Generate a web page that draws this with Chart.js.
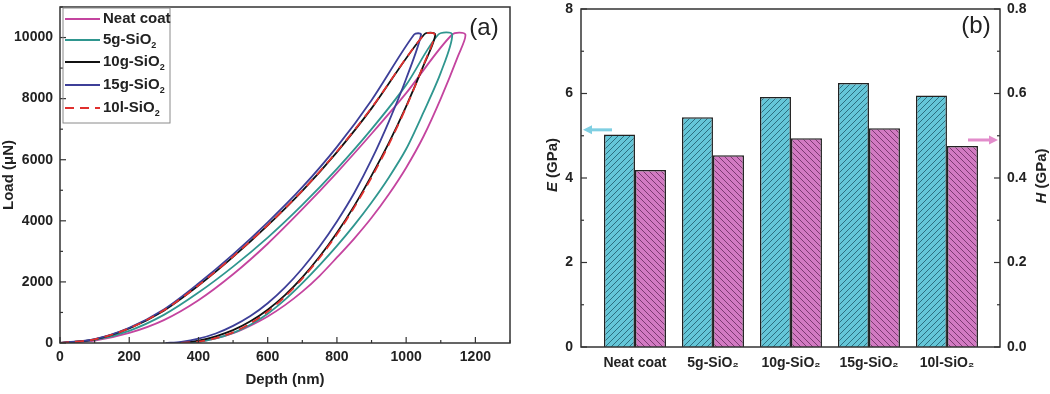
<!DOCTYPE html>
<html>
<head>
<meta charset="utf-8">
<script src="https://cdn.jsdelivr.net/npm/chart.js@4.4.0/dist/chart.umd.min.js"></script>
<style>
  body { margin: 0; background: #fff; }
  #wrap { position: relative; width: 1050px; height: 394px; }
  #chartA { position: absolute; left: 0; top: 0; }
  #chartB { position: absolute; left: 520px; top: 0; }
</style>
</head>
<body>
<div id="wrap">
  <canvas id="chartA" width="520" height="394"></canvas>
  <canvas id="chartB" width="530" height="394"></canvas>
</div>
<script>
// (a) load-depth curves: loading, hold at peak, unloading (nm, uN)
const neatDepth = [0, 100, 200, 300, 400, 500, 600, 700, 800, 900, 1000, 1133, 1171, 1150, 1100, 1050, 1000, 950, 900, 850, 800, 750, 700, 650, 600, 550, 500, 450, 400, 375];
const neatLoad  = [0, 80, 330, 750, 1400, 2250, 3250, 4380, 5580, 6850, 8180, 10100, 10100, 9400, 8000, 6760, 5740, 4870, 4100, 3420, 2800, 2200, 1680, 1240, 870, 570, 320, 150, 40, 0];

const g5Depth = [0, 100, 200, 300, 400, 500, 600, 700, 800, 900, 1000, 1093, 1133, 1100, 1050, 1000, 950, 900, 850, 800, 750, 700, 650, 600, 550, 500, 450, 400, 350];
const g5Load  = [0, 100, 400, 920, 1650, 2500, 3450, 4520, 5700, 7000, 8450, 10100, 10100, 8850, 7550, 6350, 5420, 4600, 3860, 3180, 2550, 1960, 1420, 960, 600, 330, 150, 40, 0];

const g10Depth = [0, 100, 200, 300, 400, 500, 600, 700, 800, 900, 1052, 1084, 1050, 1000, 950, 900, 850, 800, 750, 700, 650, 600, 550, 500, 450, 400, 350, 320];
const g10Load  = [0, 120, 480, 1060, 1880, 2820, 3850, 4980, 6250, 7680, 10100, 10100, 9080, 7750, 6550, 5480, 4490, 3610, 2830, 2150, 1570, 1090, 710, 420, 220, 80, 15, 0];

const g15Depth = [0, 100, 200, 300, 400, 500, 600, 700, 800, 900, 1023, 1043, 1000, 950, 900, 850, 800, 750, 700, 650, 600, 550, 500, 450, 400, 350, 305];
const g15Load  = [0, 130, 500, 1100, 1950, 2900, 3950, 5100, 6420, 7950, 10100, 10100, 8650, 7250, 6000, 4910, 3980, 3160, 2440, 1820, 1300, 880, 560, 310, 140, 40, 0];

const l10Depth = [0, 100, 200, 300, 400, 500, 600, 700, 800, 900, 1052, 1082, 1050, 1000, 950, 900, 850, 800, 750, 700, 650, 600, 550, 500, 450, 400, 340];
const l10Load  = [0, 120, 480, 1070, 1890, 2830, 3860, 4990, 6270, 7700, 10100, 10100, 9100, 7720, 6500, 5420, 4440, 3560, 2790, 2110, 1520, 1030, 640, 350, 160, 45, 0];

const depthTicks = [0, 200, 400, 600, 800, 1000, 1200];
const loadTicks = [0, 2000, 4000, 6000, 8000, 10000];

// (b) modulus and hardness
const catLabels = ['Neat coat', '5g-SiO₂', '10g-SiO₂', '15g-SiO₂', '10l-SiO₂'];
const eValues = [5.03, 5.44, 5.92, 6.25, 5.95];
const hValues = [0.419, 0.454, 0.494, 0.518, 0.476];
const eTicks = [0, 2, 4, 6, 8];
const hTicks = [0, 0.2, 0.4, 0.6, 0.8];

const FONT = "'Liberation Sans', Arial, sans-serif";
const INK = '#222';
Chart.defaults.font.family = FONT;
Chart.defaults.color = INK;

const seriesA = [
  { label: 'Neat coat', depth: neatDepth, load: neatLoad, color: '#c4449f', dash: [], order: 5 },
  { label: '5g-SiO₂', depth: g5Depth, load: g5Load, color: '#2f968f', dash: [], order: 4 },
  { label: '10g-SiO₂', depth: g10Depth, load: g10Load, color: '#111111', dash: [], order: 3 },
  { label: '15g-SiO₂', depth: g15Depth, load: g15Load, color: '#3d3f98', dash: [], order: 2 },
  { label: '10l-SiO₂', depth: l10Depth, load: l10Load, color: '#e0302e', dash: [9, 6], order: 1 }
];

// text with a lowered small "2" for SiO2
function subText(ctx, text, x, y, size) {
  const parts = text.split('₂');
  ctx.font = 'bold ' + size + 'px ' + FONT;
  ctx.fillText(parts[0], x, y);
  if (parts.length > 1) {
    const w = ctx.measureText(parts[0]).width;
    ctx.font = 'bold ' + Math.round(size * 0.6) + 'px ' + FONT;
    ctx.fillText('2', x + w, y + size * 0.35);
  }
}

function drawTicks(ctx, scale, step, majorEvery, side, area) {
  const n = Math.round((scale.max - scale.min) / step);
  for (let i = 0; i <= n; i++) {
    const v = scale.min + i * step;
    const len = (i % majorEvery === 0) ? 6 : 3;
    const p = scale.getPixelForValue(v);
    ctx.beginPath();
    if (side === 'bottom') { ctx.moveTo(p, area.bottom); ctx.lineTo(p, area.bottom - len); }
    if (side === 'left') { ctx.moveTo(area.left, p); ctx.lineTo(area.left + len, p); }
    if (side === 'right') { ctx.moveTo(area.right, p); ctx.lineTo(area.right - len, p); }
    ctx.stroke();
  }
}

// keep the plot box where the figure has it
function fixWidth(w) {
  return s => { s.width = w; s.paddingTop = 0; s.paddingBottom = 0; };
}
function fixHeight(h) {
  return s => { s.height = h; s.paddingLeft = 0; s.paddingRight = 0; };
}

const decorA = {
  id: 'decorA',
  afterDraw(chart) {
    const ctx = chart.ctx, a = chart.chartArea;
    ctx.save();
    ctx.strokeStyle = '#333';
    ctx.lineWidth = 1.5;
    ctx.strokeRect(a.left, a.top, a.right - a.left, a.bottom - a.top);
    ctx.lineWidth = 1.2;
    drawTicks(ctx, chart.scales.x, 100, 2, 'bottom', a);
    drawTicks(ctx, chart.scales.y, 1000, 2, 'left', a);

    // legend box
    ctx.strokeStyle = '#8a8a8a';
    ctx.lineWidth = 1;
    ctx.strokeRect(a.left + 3, a.top + 1, 107, 115);
    const rows = [19, 40, 62, 85, 108];
    seriesA.forEach((s, i) => {
      ctx.strokeStyle = s.color;
      ctx.lineWidth = 2;
      ctx.setLineDash(s.dash);
      ctx.beginPath();
      ctx.moveTo(a.left + 5, rows[i]);
      ctx.lineTo(a.left + 40, rows[i]);
      ctx.stroke();
      ctx.setLineDash([]);
      ctx.fillStyle = INK;
      ctx.textAlign = 'left';
      ctx.textBaseline = 'middle';
      subText(ctx, s.label, a.left + 43, rows[i], 15);
    });

    ctx.fillStyle = INK;
    ctx.font = '24px ' + FONT;
    ctx.textAlign = 'center';
    ctx.textBaseline = 'middle';
    ctx.fillText('(a)', 484, 28);
    ctx.restore();
  }
};

new Chart(document.getElementById('chartA'), {
  type: 'scatter',
  data: {
    datasets: seriesA.map(s => ({
      label: s.label,
      data: s.depth.map((d, k) => ({ x: d, y: s.load[k] })),
      showLine: true,
      borderColor: s.color,
      borderWidth: 1.8,
      borderDash: s.dash,
      pointRadius: 0,
      tension: 0.3,
      fill: false,
      order: s.order
    }))
  },
  options: {
    responsive: false,
    animation: false,
    devicePixelRatio: 1,
    layout: { padding: { top: 7, right: 10, left: 0, bottom: 0 } },
    plugins: { legend: { display: false }, tooltip: { enabled: false } },
    scales: {
      x: {
        type: 'linear', min: 0, max: 1300,
        afterBuildTicks: s => { s.ticks = depthTicks.map(v => ({ value: v })); },
        ticks: { callback: v => String(v), padding: 6, maxRotation: 0, autoSkip: false, font: { size: 14, weight: 'bold' } },
        grid: { display: false, drawTicks: false },
        border: { display: false },
        title: { display: true, text: 'Depth (nm)', font: { size: 15, weight: 'bold' }, padding: { top: 2, bottom: 5 } },
        afterFit: fixHeight(51)
      },
      y: {
        type: 'linear', min: 0, max: 11000,
        afterBuildTicks: s => { s.ticks = loadTicks.map(v => ({ value: v })); },
        ticks: { callback: v => String(v), padding: 7, autoSkip: false, font: { size: 14, weight: 'bold' } },
        grid: { display: false, drawTicks: false },
        border: { display: false },
        title: { display: true, text: 'Load (μN)', font: { size: 15, weight: 'bold' }, padding: 0 },
        afterFit: fixWidth(60)
      }
    }
  },
  plugins: [decorA]
});

// hatch fills for the bars
function hatch(bg, fg, forward) {
  const c = document.createElement('canvas');
  c.width = 6; c.height = 6;
  const g = c.getContext('2d');
  g.fillStyle = bg;
  g.fillRect(0, 0, 6, 6);
  g.strokeStyle = fg;
  g.lineWidth = 1;
  g.beginPath();
  if (forward) {
    g.moveTo(-1, 7); g.lineTo(7, -1);
    g.moveTo(-1, 1); g.lineTo(1, -1);
    g.moveTo(5, 7); g.lineTo(7, 5);
  } else {
    g.moveTo(-1, -1); g.lineTo(7, 7);
    g.moveTo(-1, 5); g.lineTo(1, 7);
    g.moveTo(5, -1); g.lineTo(7, 1);
  }
  g.stroke();
  return g.createPattern(c, 'repeat');
}

function vText(ctx, x, y, parts, size) {
  ctx.save();
  ctx.translate(x, y);
  ctx.rotate(-Math.PI / 2);
  ctx.textBaseline = 'middle';
  ctx.textAlign = 'left';
  let total = 0;
  parts.forEach(p => {
    ctx.font = (p.italic ? 'italic ' : '') + 'bold ' + size + 'px ' + FONT;
    p.w = ctx.measureText(p.text).width;
    total += p.w;
  });
  let cx = -total / 2;
  parts.forEach(p => {
    ctx.font = (p.italic ? 'italic ' : '') + 'bold ' + size + 'px ' + FONT;
    ctx.fillText(p.text, cx, 0);
    cx += p.w;
  });
  ctx.restore();
}

function arrow(ctx, x0, x1, y, color) {
  const dir = Math.sign(x1 - x0);
  ctx.strokeStyle = color;
  ctx.fillStyle = color;
  ctx.lineWidth = 3;
  ctx.beginPath();
  ctx.moveTo(x0, y);
  ctx.lineTo(x1 - dir * 7, y);
  ctx.stroke();
  ctx.beginPath();
  ctx.moveTo(x1, y);
  ctx.lineTo(x1 - dir * 9, y - 4.5);
  ctx.lineTo(x1 - dir * 9, y + 4.5);
  ctx.closePath();
  ctx.fill();
}

const decorB = {
  id: 'decorB',
  afterDraw(chart) {
    const ctx = chart.ctx, a = chart.chartArea;
    ctx.save();
    ctx.strokeStyle = '#333';
    ctx.lineWidth = 1.5;
    ctx.strokeRect(a.left, a.top, a.right - a.left, a.bottom - a.top);
    ctx.lineWidth = 1.2;
    drawTicks(ctx, chart.scales.y, 1, 2, 'left', a);
    drawTicks(ctx, chart.scales.y2, 0.1, 2, 'right', a);

    ctx.fillStyle = INK;
    vText(ctx, 33, 165, [{ text: 'E', italic: true }, { text: ' (GPa)' }], 15);
    vText(ctx, 522, 176, [{ text: 'H', italic: true }, { text: ' (GPa)' }], 15);

    arrow(ctx, a.left + 31, a.left + 2, chart.scales.y.getPixelForValue(5.14), '#7fcfe2');
    arrow(ctx, a.right - 32, a.right - 2, chart.scales.y2.getPixelForValue(0.49), '#e28ccb');

    ctx.fillStyle = INK;
    ctx.font = '24px ' + FONT;
    ctx.textAlign = 'center';
    ctx.textBaseline = 'middle';
    ctx.fillText('(b)', 456, 26);
    ctx.restore();
  }
};

new Chart(document.getElementById('chartB'), {
  type: 'bar',
  data: {
    datasets: [
      {
        label: 'E',
        data: eValues.map((v, i) => ({ x: i, y: v })),
        yAxisID: 'y',
        backgroundColor: hatch('#64c6d8', '#2c6f80', true),
        borderColor: '#222',
        borderWidth: 1.5,
        barPercentage: 1,
        categoryPercentage: 0.795
      },
      {
        label: 'H',
        data: hValues.map((v, i) => ({ x: i, y: v })),
        yAxisID: 'y2',
        backgroundColor: hatch('#d27ac2', '#7c3a72', false),
        borderColor: '#222',
        borderWidth: 1.5,
        barPercentage: 1,
        categoryPercentage: 0.795
      }
    ]
  },
  options: {
    responsive: false,
    animation: false,
    devicePixelRatio: 1,
    layout: { padding: { top: 9, right: 0, left: 0, bottom: 0 } },
    plugins: { legend: { display: false }, tooltip: { enabled: false } },
    scales: {
      x: {
        type: 'linear', min: -0.692, max: 4.68, offset: false,
        afterBuildTicks: s => { s.ticks = catLabels.map((_, i) => ({ value: i })); },
        ticks: { callback: v => catLabels[v], padding: 8, maxRotation: 0, autoSkip: false, font: { size: 14, weight: 'bold' } },
        grid: { display: false, drawTicks: false, offset: false },
        border: { display: false },
        afterFit: fixHeight(47)
      },
      y: {
        position: 'left', min: 0, max: 8,
        afterBuildTicks: s => { s.ticks = eTicks.map(v => ({ value: v })); },
        ticks: { padding: 8, font: { size: 14, weight: 'bold' } },
        grid: { display: false, drawTicks: false },
        border: { display: false },
        afterFit: fixWidth(61)
      },
      y2: {
        position: 'right', min: 0, max: 0.8,
        afterBuildTicks: s => { s.ticks = hTicks.map(v => ({ value: v })); },
        ticks: { padding: 7, callback: v => v.toFixed(1), font: { size: 14, weight: 'bold' } },
        grid: { display: false, drawTicks: false },
        border: { display: false },
        afterFit: fixWidth(50)
      }
    }
  },
  plugins: [decorB]
});
</script>
</body>
</html>
